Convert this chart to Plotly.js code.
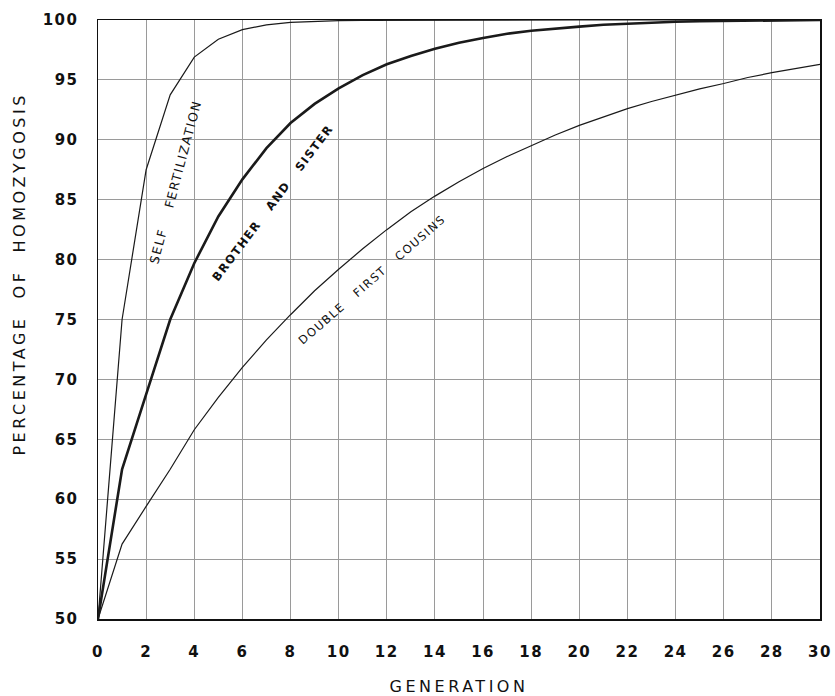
<!DOCTYPE html>
<html>
<head>
<meta charset="utf-8">
<script src="https://cdn.plot.ly/plotly-3.0.1.min.js"></script>
<style>
  html, body { margin: 0; padding: 0; background: #fff; }
  #chart { width: 835px; height: 696px; }
  .xtitle { letter-spacing: 3.5px; }
  .xtick text, .ytick text { letter-spacing: 1.5px; }
  .annotation-text { letter-spacing: 1.5px; }
  .annotation[data-index="4"] .annotation-text { letter-spacing: 3.5px; }
</style>
</head>
<body>
<div id="chart"></div>
<script>
// Generations 0..30
const generations = [0,1,2,3,4,5,6,7,8,9,10,11,12,13,14,15,16,17,18,19,20,21,22,23,24,25,26,27,28,29,30];

// Percentage of homozygosis
const selfFertilization = [50,75,87.5,93.75,96.9,98.4,99.2,99.6,99.8,99.9,99.95,99.97,99.98,99.99,100,100,100,100,100,100,100,100,100,100,100,100,100,100,100,100,100];
const brotherAndSister  = [50,62.5,68.75,75,79.7,83.6,86.7,89.3,91.4,93.0,94.3,95.4,96.3,97.0,97.6,98.1,98.5,98.85,99.1,99.3,99.45,99.6,99.7,99.8,99.85,99.9,99.93,99.95,99.97,99.98,100];
const doubleFirstCousins = [50,56.25,59.4,62.5,65.8,68.5,71.0,73.3,75.4,77.4,79.2,80.9,82.5,84.0,85.3,86.5,87.6,88.6,89.5,90.4,91.2,91.9,92.6,93.2,93.75,94.25,94.7,95.2,95.6,95.95,96.3];

const xTickVals = [0,2,4,6,8,10,12,14,16,18,20,22,24,26,28,30];
const yTickVals = [50,55,60,65,70,75,80,85,90,95,100];

// Curve labels: text, anchor (generation, percent), angle
const curveLabels = [
  {text: "SELF&nbsp;&nbsp;&nbsp;&nbsp;FERTILIZATION", x: 3.23, y: 86.5, angle: -75, bold: false, size: 12.5},
  {text: "BROTHER&nbsp;&nbsp;&nbsp;AND&nbsp;&nbsp;&nbsp;SISTER", x: 7.26, y: 84.7, angle: -53, bold: true, size: 11.5},
  {text: "DOUBLE&nbsp;&nbsp;&nbsp;FIRST&nbsp;&nbsp;&nbsp;COUSINS", x: 11.37, y: 78.3, angle: -41, bold: false, size: 11.5}
];

const lineColor = "#1a1a1a";
const traces = [
  {x: generations, y: selfFertilization, mode: "lines", line: {color: lineColor, width: 1.2}, name: "Self fertilization"},
  {x: generations, y: brotherAndSister, mode: "lines", line: {color: lineColor, width: 2.6}, name: "Brother and sister"},
  {x: generations, y: doubleFirstCousins, mode: "lines", line: {color: lineColor, width: 1.2}, name: "Double first cousins"}
];

const annotations = curveLabels.map(l => ({
  x: l.x, y: l.y, xref: "x", yref: "y",
  text: l.bold ? "<b>" + l.text + "</b>" : l.text,
  textangle: l.angle, showarrow: false,
  font: {family: "DejaVu Sans", size: l.size, color: "#111"}
}));
annotations.push({
  x: 28.0, y: 49.6, xref: "x", yref: "y", yanchor: "top",
  text: "B Bohen", showarrow: false,
  font: {family: "DejaVu Sans", size: 7, color: "#222"}
});
// y-axis title (placed as annotation to match the reference position)
annotations.push({
  x: -0.108, y: 0.575, xref: "paper", yref: "paper", xanchor: "center", yanchor: "middle",
  text: "PERCENTAGE&nbsp;&nbsp;OF&nbsp;&nbsp;HOMOZYGOSIS", textangle: -90, showarrow: false,
  font: {family: "DejaVu Sans", size: 16, color: "#111"}
});

const layout = {
  width: 835, height: 696,
  margin: {l: 98, r: 15, t: 20, b: 77},
  paper_bgcolor: "#fff", plot_bgcolor: "#fff",
  showlegend: false,
  font: {family: "DejaVu Sans", color: "#111"},
  xaxis: {
    range: [0, 30], tickvals: xTickVals, ticktext: xTickVals.map(String),
    showgrid: true, gridcolor: "#9a9a9a", gridwidth: 1,
    zeroline: false, showline: true, linecolor: "#111", linewidth: 1.5, mirror: true,
    ticks: "", ticklabelstandoff: 18,
    tickfont: {family: "DejaVu Sans", size: 15, weight: "bold", color: "#111"},
    title: {text: "GENERATION", standoff: 22, font: {family: "DejaVu Sans", size: 16, color: "#111"}},
    fixedrange: true
  },
  yaxis: {
    range: [50, 100], tickvals: yTickVals, ticktext: yTickVals.map(String),
    showgrid: true, gridcolor: "#9a9a9a", gridwidth: 1,
    zeroline: false, showline: true, linecolor: "#111", linewidth: 1.5, mirror: true,
    ticks: "", ticklabelstandoff: 15,
    tickfont: {family: "DejaVu Sans", size: 15, weight: "bold", color: "#111"},
    fixedrange: true
  },
  annotations: annotations
};

Plotly.newPlot("chart", traces, layout, {displayModeBar: false, staticPlot: true});
</script>
</body>
</html>
